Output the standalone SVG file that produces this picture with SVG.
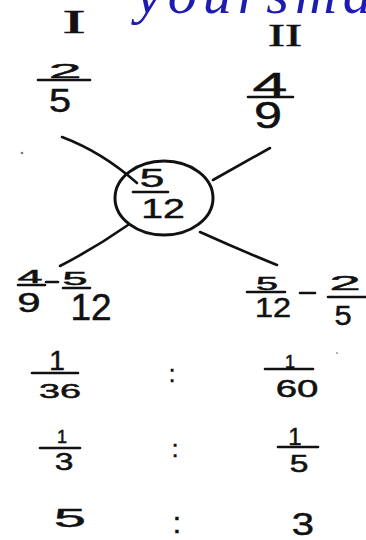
<svg xmlns="http://www.w3.org/2000/svg" width="366" height="540" viewBox="0 0 366 540">
<defs>
<style>
.d{font-family:"Liberation Sans","DejaVu Sans",sans-serif;fill:#111;text-anchor:middle;stroke:#111;stroke-width:0.5}
.r{font-family:"Liberation Serif",serif;fill:#111;text-anchor:middle;stroke:#111;stroke-width:0.6}
.bar{stroke:#111;stroke-width:2.6;stroke-linecap:round;fill:none}
.c{stroke:#111;stroke-width:2.6;fill:none;stroke-linecap:round}
.w{font-family:"Liberation Serif",serif;font-style:italic;fill:#1c1cb0}
</style>
<linearGradient id="fade" x1="0" y1="0" x2="1" y2="0">
<stop offset="0" stop-color="#000"/>
<stop offset="0.4" stop-color="#222"/>
<stop offset="1" stop-color="#bbb"/>
</linearGradient>
</defs>
<rect width="366" height="540" fill="#fff"/>
<text class="w" x="136" y="13" font-size="58" letter-spacing="6">yoursma</text>

<g id="label-I"><text class="r" transform="translate(74,33) scale(2.1,1)" font-size="33">I</text></g>
<g id="label-II"><text class="r" transform="translate(285,46) scale(1.6,1)" font-size="32">II</text></g>

<g id="frac-2-5">
<text class="d" transform="translate(65,78) scale(2.8,1)" font-size="21">2</text>
<line class="bar" x1="38" y1="80" x2="90" y2="80"/>
<text class="d" transform="translate(60,112) scale(1.2,1)" font-size="33">5</text>
</g>
<g id="frac-4-9">
<text class="d" transform="translate(270,96) scale(1.9,1)" font-size="33">4</text>
<line class="bar" x1="248" y1="97" x2="293" y2="97"/>
<text class="d" transform="translate(268,128) scale(1.4,1)" font-size="36">9</text>
</g>

<g id="connectors">
<path class="c" d="M62,137 Q102,152 137,183"/>
<path class="c" d="M270,148 L213,180"/>
<path class="c" d="M128,225 Q95,248 60,266"/>
<path class="c" d="M200,232 Q240,250 277,265"/>
</g>

<g id="center">
<ellipse cx="164" cy="198" rx="49" ry="37" fill="none" stroke="#111" stroke-width="3"/>
<text class="d" transform="translate(152,187) scale(1.7,1)" font-size="26">5</text>
<line class="bar" x1="133" y1="192" x2="168" y2="192"/>
<text class="d" transform="translate(163,218) scale(1.4,1)" font-size="28">12</text>
</g>

<g id="diff-left">
<text class="d" transform="translate(30,283) scale(2.5,1)" font-size="18">4</text>
<line class="bar" x1="18" y1="285" x2="45" y2="285"/>
<text class="d" transform="translate(29,312) scale(1.5,1)" font-size="28">9</text>
<line class="bar" x1="46" y1="282" x2="58" y2="282"/>
<text class="d" transform="translate(75,285) scale(2.5,1)" font-size="18">5</text>
<line class="bar" x1="63" y1="288" x2="90" y2="288"/>
<text class="d" x="91" y="320" font-size="37">12</text>
</g>

<g id="diff-right">
<text class="d" transform="translate(267,290) scale(2.2,1)" font-size="18">5</text>
<line class="bar" x1="247" y1="292" x2="285" y2="292"/>
<text class="d" transform="translate(273,317) scale(1.2,1)" font-size="27">12</text>
<line class="bar" x1="300" y1="293" x2="315" y2="293"/>
<text class="d" transform="translate(345,290) scale(2.8,1)" font-size="20">2</text>
<line class="bar" x1="328" y1="297" x2="366" y2="297"/>
<text class="d" transform="translate(343,325) scale(1.1,1)" font-size="28">5</text>
</g>

<g id="row-1">
<text class="d" x="57" y="370" font-size="28">1</text>
<line class="bar" x1="32" y1="373" x2="78" y2="373"/>
<text class="d" transform="translate(60,398) scale(1.8,1)" font-size="21">36</text>
<text class="d" x="172" y="382" font-size="24">:</text>
<text class="d" x="290" y="368" font-size="18">1</text>
<line class="bar" x1="265" y1="369" x2="313" y2="369"/>
<text class="d" transform="translate(297,397) scale(1.6,1)" font-size="24">60</text>
</g>

<g id="row-2">
<text class="d" x="62" y="443" font-size="18">1</text>
<line class="bar" x1="40" y1="448" x2="80" y2="448"/>
<text class="d" transform="translate(64,470) scale(1.4,1)" font-size="24">3</text>
<text class="d" x="175" y="457" font-size="24">:</text>
<text class="d" x="295" y="445" font-size="24">1</text>
<line class="bar" x1="278" y1="447" x2="318" y2="447"/>
<text class="d" transform="translate(299,472) scale(1.4,1)" font-size="24">5</text>
</g>

<g id="row-3">
<text class="d" transform="translate(70,527) scale(2.2,1)" font-size="26">5</text>
<text class="d" x="177" y="533" font-size="30">:</text>
<text class="d" transform="translate(303,535) scale(1.25,1)" font-size="32">3</text>
</g>

<circle cx="22" cy="153" r="1.3" fill="#777"/>
<circle cx="337" cy="353" r="1" fill="#999"/>
<line x1="0" y1="537.5" x2="366" y2="537.5" stroke="url(#fade)" stroke-width="3"/>
</svg>
